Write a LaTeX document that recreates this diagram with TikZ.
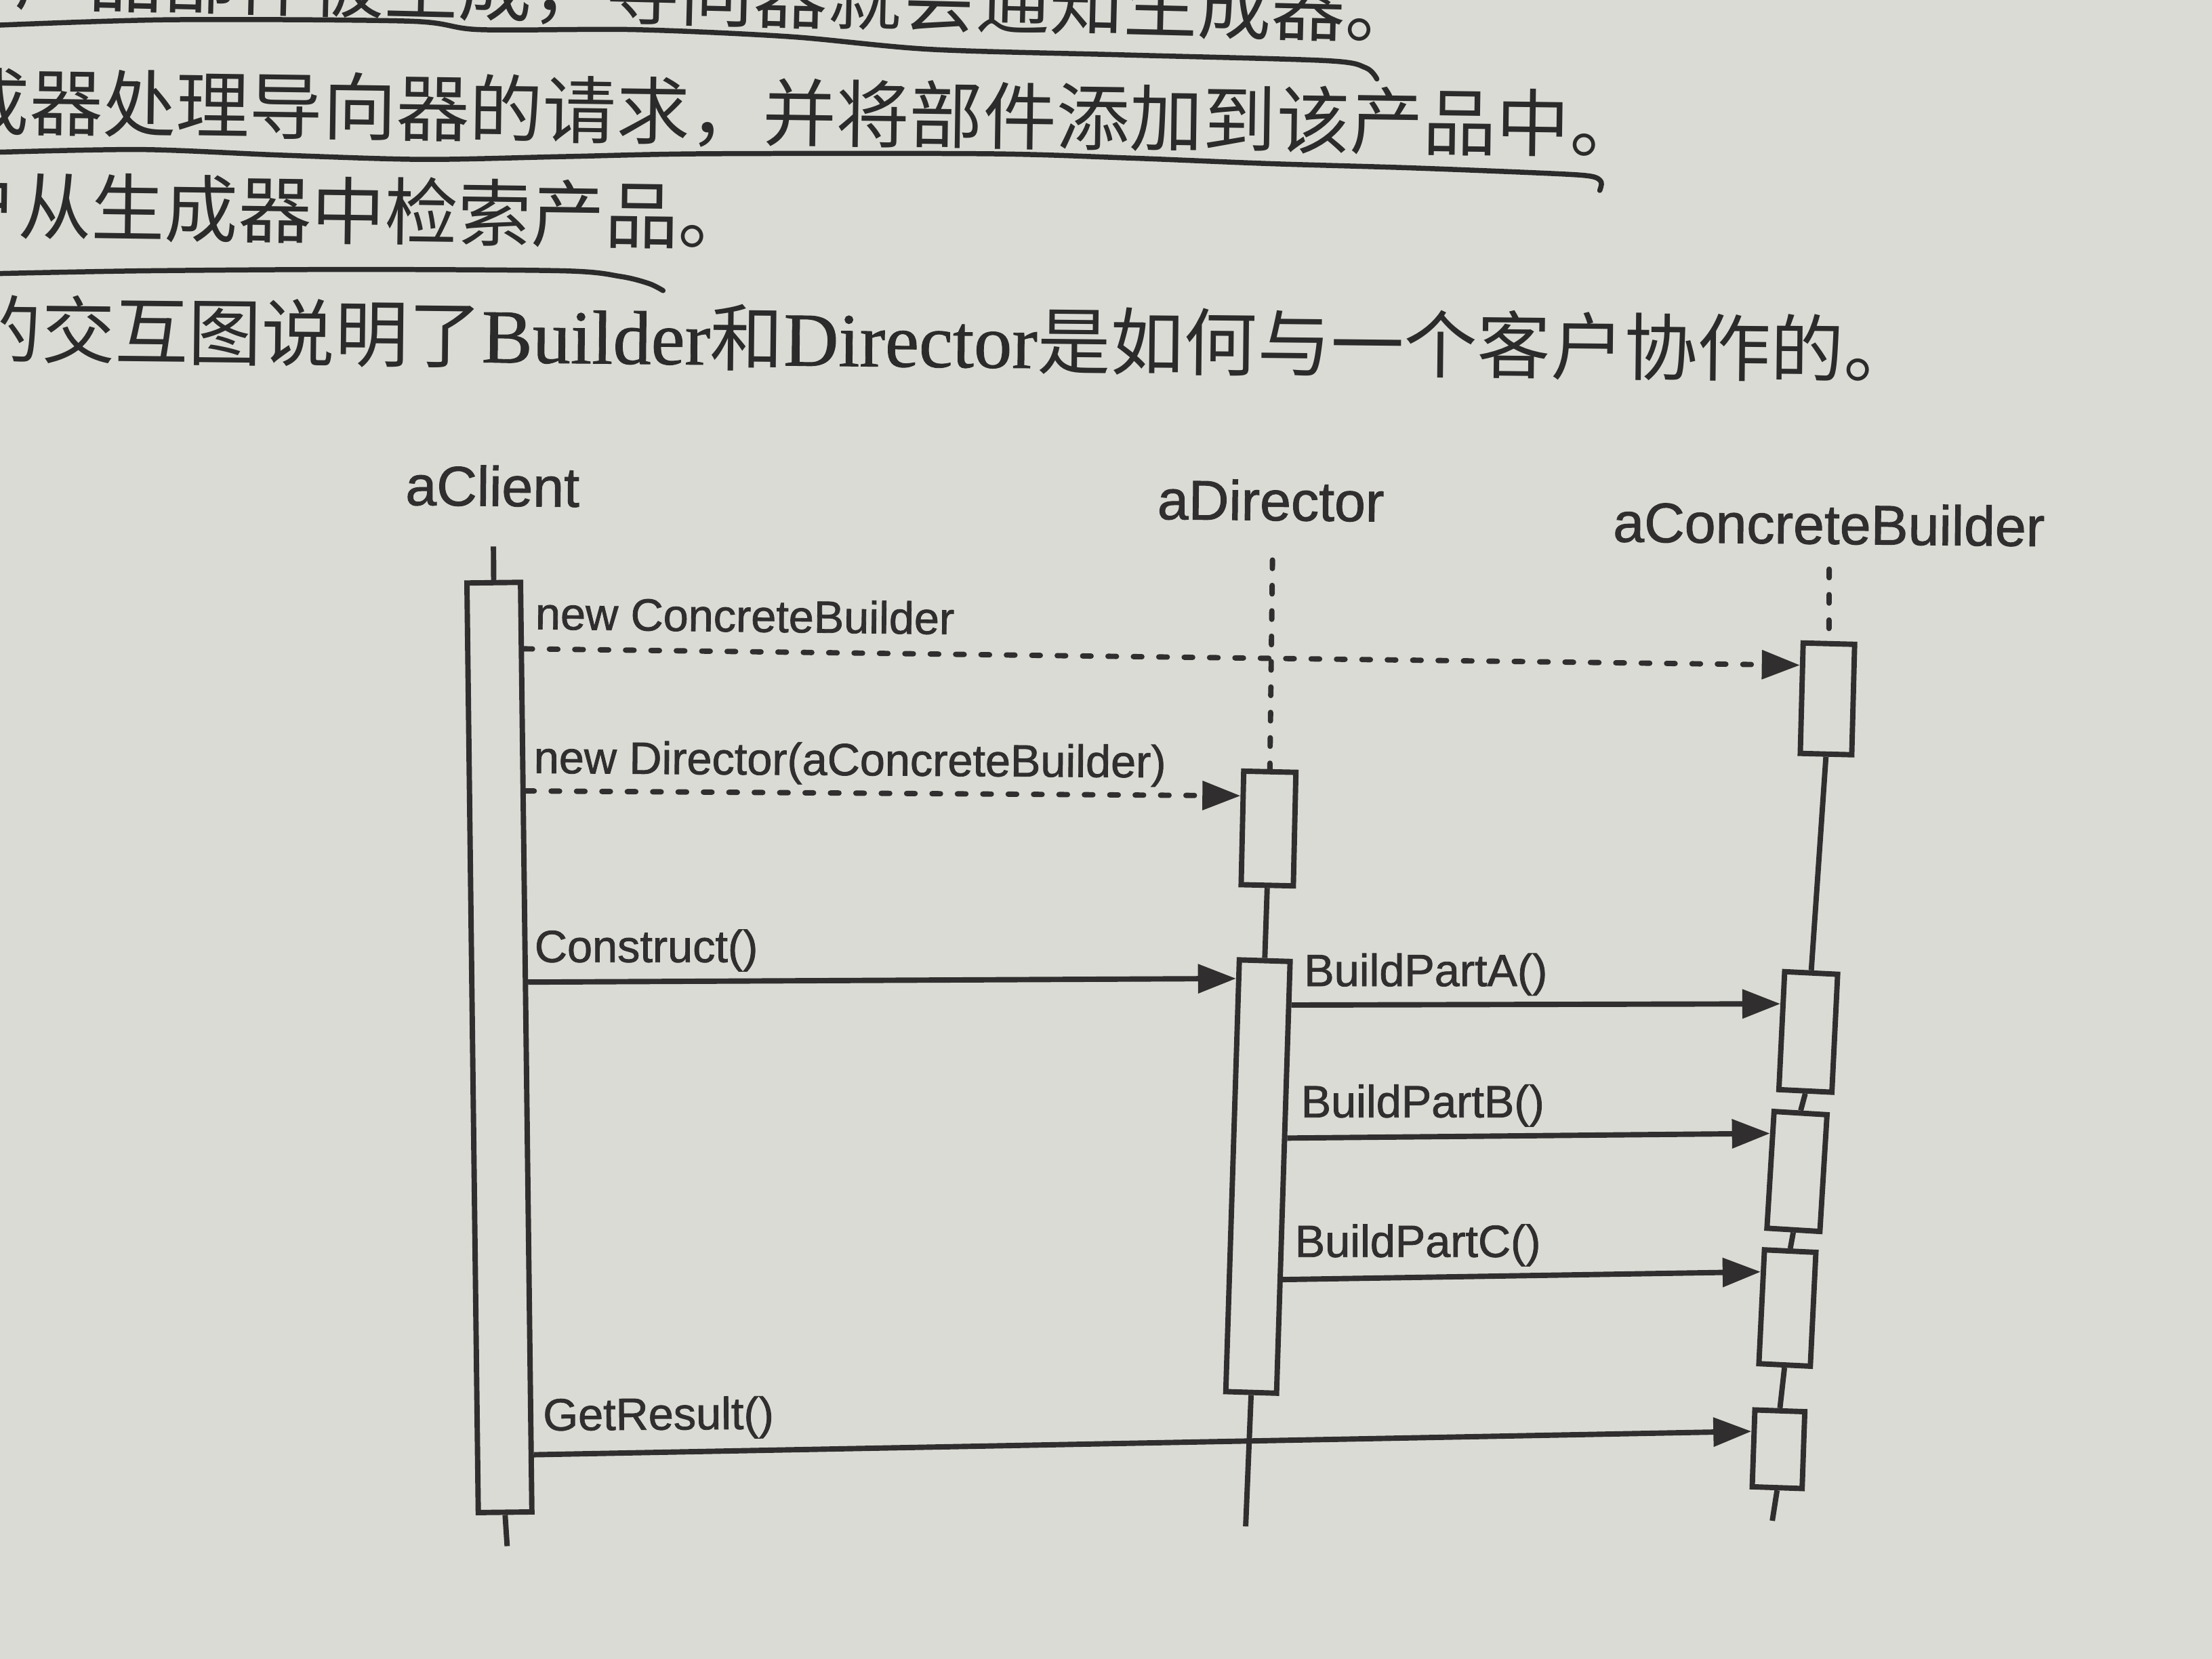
\documentclass[tikz,border=0pt]{standalone}
\usepackage{fontspec}
\usetikzlibrary{arrows.meta,calc}
\newfontfamily\cjk{Noto Sans CJK SC}
\newfontfamily\latserif{Liberation Serif}[FakeBold=0.8]
\newfontfamily\umlsans{Liberation Sans}[FakeBold=1.2]
\definecolor{paper}{RGB}{218,219,212}
\definecolor{ink}{RGB}{48,46,46}
\definecolor{pen}{RGB}{44,43,43}

\begin{document}
\begin{tikzpicture}[x=0.5pt,y=-0.5pt,
  act/.style={draw=ink,line width=1.9pt,fill=paper,rectangle,inner sep=0pt},
  life/.style={draw=ink,line width=1.9pt},
  lifedash/.style={draw=ink,line width=1.9pt,dash pattern=on 3pt off 6pt,line cap=round},
  msg/.style={draw=ink,line width=1.9pt,-{Triangle[length=13.5pt,width=10pt]}},
  dashmsg/.style={msg,dash pattern=on 3pt off 6pt,line cap=round},
  role/.style={font={\umlsans\fontsize{19.8}{24}\selectfont},text=ink,inner sep=0pt,anchor=base west},
  call/.style={font={\umlsans\fontsize{16}{19}\selectfont},text=ink,inner sep=0pt,anchor=base west},
  bookline/.style={font={\cjk\fontsize{26}{30}\selectfont},text=pen,inner sep=0pt,anchor=base east},
  penline/.style={draw=pen,line width=1.8pt,line cap=round,line join=round}
]
\useasboundingbox (0,0) rectangle (1568,1176);
\clip (0,0) rectangle (1568,1176);
\fill[paper] (0,0) rectangle (1568,1176);

% --- running text of the page ---
\node[bookline,font={\cjk\fontsize{26.2}{30}\selectfont},rotate=-1.4] (t1) at (1006,27) {产品部件被生成，导向器就会通知生成器。};
\node[bookline,rotate=-0.8] (t2) at (1165,108) {成器处理导向器的请求，并将部件添加到该产品中。};
\node[bookline,rotate=-0.8] (t3) at (533,173) {户从生成器中检索产品。};
\node[bookline,anchor=base west,rotate=-0.6] (t4) at (-23,253)
  {的交互图说明了{\latserif\fontsize{27}{30}\selectfont Builder}和{\latserif\fontsize{27}{30}\selectfont Director}是如何与一个客户协作的。};

% --- pen underlines ---
\draw[penline] plot[smooth,tension=0.5] coordinates {(-5,18) (120,14) (290,15) (340,21) (450,21) (560,26) (660,35) (800,39) (940,43) (968,48) (976,56)};
\draw[penline] plot[smooth,tension=0.5] coordinates {(-5,108) (100,106) (200,110) (300,113) (400,111) (500,109) (700,109) (800,112) (900,116) (1000,119) (1100,123) (1128,125) (1135,129) (1134,135)};
\draw[penline] plot[smooth,tension=0.5] coordinates {(-5,194) (100,192) (250,191) (400,192) (440,196) (460,201) (470,206)};

% --- object names ---
\node[role,rotate=-0.6] (hc) at (287,358) {aClient};
\node[role,rotate=-0.6] (hd) at (820,368) {aDirector};
\node[role,rotate=-0.6] (hb) at (1143,384) {aConcreteBuilder};

% --- activation boxes ---
\node[act,minimum width=19pt,minimum height=329.5pt,rotate=0.7] (C0) at (354,742.5) {};
\node[act,minimum width=18.5pt,minimum height=40.25pt,rotate=-1.3] (D1) at (899.2,587.3) {};
\node[act,minimum width=18pt,minimum height=153.1pt,rotate=-1.8] (D2) at (891.7,834) {};
\node[act,minimum width=18.25pt,minimum height=39.15pt,rotate=-1.5] (B1) at (1295.4,495.4) {};
\node[act,minimum width=18.8pt,minimum height=41.85pt,rotate=-2.8] (BA) at (1281.8,731.5) {};
\node[act,minimum width=18.8pt,minimum height=41.45pt,rotate=-3.5] (BB) at (1273.8,830.4) {};
\node[act,minimum width=18.25pt,minimum height=40.4pt,rotate=-2.8] (BC) at (1267,927.2) {};
\node[act,minimum width=17.7pt,minimum height=27.25pt,rotate=-2] (BD) at (1260.7,1027.3) {};

% --- lifelines ---
\coordinate (ctop) at (349.8,387.4);
\coordinate (cbot) at (359.5,1096);
\coordinate (dtop) at (902,397);
\coordinate (dbot) at (883,1082);
\coordinate (btop) at (1296.6,403.5);
\coordinate (bbot) at (1256.3,1078);

\draw[life] (ctop) -- (C0.north);
\draw[life] (C0.south) -- (cbot);
\draw[lifedash] (dtop) -- (D1.north);
\draw[life] (D1.south) -- (D2.north);
\draw[life] (D2.south) -- (dbot);
\draw[lifedash] (btop) -- (B1.north);
\draw[life] (B1.south) -- (BA.north);
\draw[life] (BA.south) -- (BB.north);
\draw[life] (BB.south) -- (BC.north);
\draw[life] (BC.south) -- (BD.north);
\draw[life] (BD.south) -- (bbot);

% --- messages ---
\draw[dashmsg] ($(C0.north east)!0.074!(C0.south east)$) -- ($(B1.north west)!0.215!(B1.south west)$);
\draw[dashmsg] ($(C0.north east)!0.226!(C0.south east)$) -- ($(D1.north west)!0.23!(D1.south west)$);
\draw[msg] ($(C0.north east)!0.4305!(C0.south east)$) -- ($(D2.north west)!0.049!(D2.south west)$);
\draw[msg] ($(D2.north east)!0.1056!(D2.south east)$) -- ($(BA.north west)!0.2835!(BA.south west)$);
\draw[msg] ($(D2.north east)!0.41!(D2.south east)$) -- ($(BB.north west)!0.203!(BB.south west)$);
\draw[msg] ($(D2.north east)!0.7337!(D2.south east)$) -- ($(BC.north west)!0.208!(BC.south west)$);
\draw[msg] ($(C0.north east)!0.936!(C0.south east)$) -- ($(BD.north west)!0.294!(BD.south west)$);

% --- message labels ---
\node[call,rotate=-0.7] (l1) at (379,446) {new ConcreteBuilder};
\node[call,rotate=-0.4] (l2) at (378,548) {new Director(aConcreteBuilder)};
\node[call] (l3) at (378.6,682) {Construct()};
\node[call] (l4) at (924,699) {BuildPartA()};
\node[call] (l5) at (921.8,792) {BuildPartB()};
\node[call] (l6) at (917.5,891) {BuildPartC()};
\node[call,rotate=0.4] (l7) at (384.6,1014) {GetResult()};
\end{tikzpicture}
\end{document}
